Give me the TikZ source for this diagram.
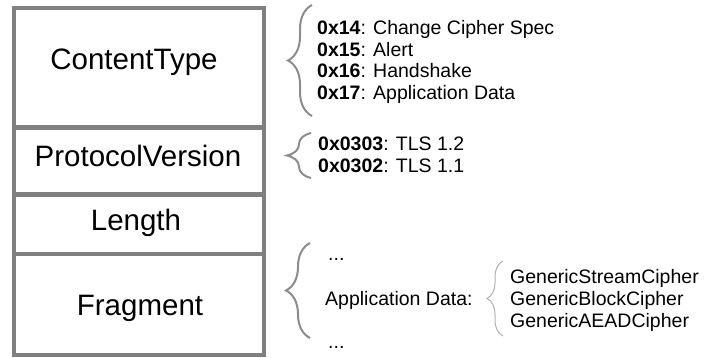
\documentclass[tikz,border=0pt]{standalone}
\usepackage{fontspec}
\setmainfont{Liberation Sans}
\usetikzlibrary{decorations.pathreplacing}

\definecolor{boxgray}{RGB}{128,128,128}
\definecolor{bracegray}{RGB}{140,140,140}

\begin{document}
\begin{tikzpicture}[x=1pt,y=-1pt,
  field/.style={font=\fontsize{29.5}{35}\selectfont, inner sep=0pt, anchor=base},
  item/.style={font=\fontsize{19.5}{22}\selectfont, inner sep=0pt, anchor=base west},
  bigbrace/.style={draw=bracegray, line width=2pt, decorate, decoration={brace, amplitude=24pt}},
  smallbrace/.style={draw=bracegray!70, line width=1pt, decorate, decoration={brace, amplitude=16pt}}]
\useasboundingbox (0,0) rectangle (704,358);

% record
\draw[boxgray, line width=4pt] (14,8) rectangle (264,355);
\foreach \y in {127.5,194.5,254}
  \draw[boxgray, line width=4.5pt] (14,\y) -- (264,\y);

\node[field] (ctype) at (134,70) {ContentType};
\node[field] (pver) at (138,167) {ProtocolVersion};
\node[field] (len) at (136,230) {Length};
\node[field] (frag) at (140,315) {Fragment};

% content types
\draw[bigbrace] (312,116) -- (312,5);
\foreach \code/\name [count=\i] in {0x14/Change Cipher Spec,0x15/Alert,0x16/Handshake,0x17/Application Data}
  \node[item] (ct\i) at (317,12.8+\i*21.7) {\textbf{\code}: \name};

% versions
\draw[bigbrace] (311,178) -- (311,133);
\node[item] (v1) at (318,151) {\textbf{0x0303}: TLS 1.2};
\node[item] (v2) at (318,173) {\textbf{0x0302}: TLS 1.1};

% fragment
\draw[bigbrace] (310,338) -- (310,243);
\node[item] (dots1) at (328,260) {...};
\node[item] (appdata) at (325,305) {Application Data:};
\node[item] (dots2) at (328,348) {...};

\draw[smallbrace] (503,336) -- (503,261);
\node[item] (stream) at (510,283) {GenericStreamCipher};
\node[item] (block) at (510,305) {GenericBlockCipher};
\node[item] (aead) at (510,327) {GenericAEADCipher};
\end{tikzpicture}
\end{document}
